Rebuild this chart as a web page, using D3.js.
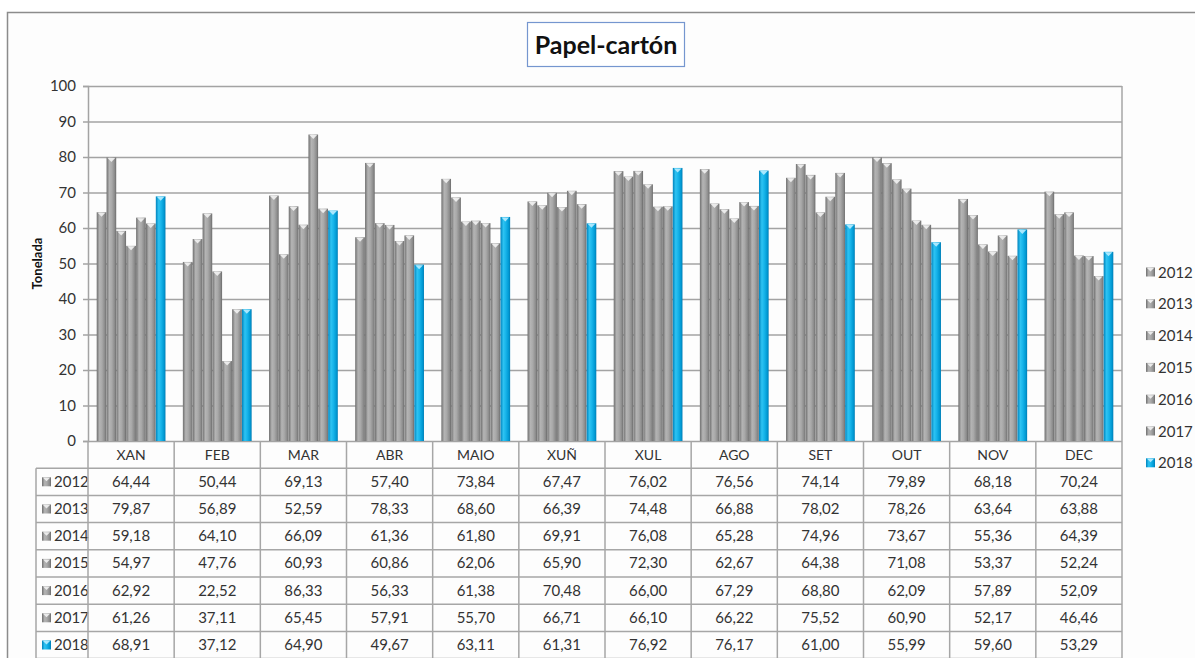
<!DOCTYPE html>
<html><head><meta charset="utf-8">
<script src="https://cdn.jsdelivr.net/npm/d3@7"></script>
<style>
html,body{margin:0;padding:0;background:#fff;}
text{font-family:Lato,"Open Sans",sans-serif;}
</style></head>
<body><svg id="c" width="1195" height="658"></svg>
<script>
const months = ["XAN","FEB","MAR","ABR","MAIO","XUÑ","XUL","AGO","SET","OUT","NOV","DEC"];
const years = ["2012","2013","2014","2015","2016","2017","2018"];
const v2012 = [64.44,50.44,69.13,57.40,73.84,67.47,76.02,76.56,74.14,79.89,68.18,70.24];
const v2013 = [79.87,56.89,52.59,78.33,68.60,66.39,74.48,66.88,78.02,78.26,63.64,63.88];
const v2014 = [59.18,64.10,66.09,61.36,61.80,69.91,76.08,65.28,74.96,73.67,55.36,64.39];
const v2015 = [54.97,47.76,60.93,60.86,62.06,65.90,72.30,62.67,64.38,71.08,53.37,52.24];
const v2016 = [62.92,22.52,86.33,56.33,61.38,70.48,66.00,67.29,68.80,62.09,57.89,52.09];
const v2017 = [61.26,37.11,65.45,57.91,55.70,66.71,66.10,66.22,75.52,60.90,52.17,46.46];
const v2018 = [68.91,37.12,64.90,49.67,63.11,61.31,76.92,76.17,61.00,55.99,59.60,53.29];
const yTicks = [0,10,20,30,40,50,60,70,80,90,100];
const title = "Papel-cartón";
const yLabel = "Tonelada";

(function(){
const series = [v2012,v2013,v2014,v2015,v2016,v2017,v2018];
const data = years.map((yr,i)=>({year:yr, values:series[i]}));

const svg = d3.select("#c");
const W = 1195, H = 658;
const pL = 88, pR = 1122, pT = 86, pB = 441;

svg.append("rect").attr("x",0).attr("y",0).attr("width",W).attr("height",H).attr("fill","#fff");
svg.append("rect").attr("x",7.5).attr("y",12.5).attr("width",1200).attr("height",700)
  .attr("fill","#fdfdfd").attr("stroke","#8c8c8c").attr("stroke-width",1.5);

const defs = svg.append("defs");
function grad(id, stops){
  const g = defs.append("linearGradient").attr("id",id).attr("x1","0%").attr("x2","100%").attr("y1","0%").attr("y2","0%");
  stops.forEach(s=>g.append("stop").attr("offset",s[0]).attr("stop-color",s[1]));
}
grad("gGray",[["0%","#6f6f6f"],["30%","#b4b4b4"],["55%","#a9a9a9"],["85%","#8a8a8a"],["100%","#6a6a6a"]]);
grad("gBlue",[["0%","#0083bd"],["30%","#2ec3f2"],["55%","#17b4ea"],["85%","#0098d2"],["100%","#007cb4"]]);
const fillFor = yr => yr==="2018" ? "url(#gBlue)" : "url(#gGray)";
const capFor = yr => yr==="2018" ? "#b8ecff" : "#f2f2f2";

const tg = svg.append("g");
tg.append("rect").attr("x",527.5).attr("y",22.5).attr("width",157).attr("height",44)
  .attr("fill","#fff").attr("stroke","#7596cf").attr("stroke-width",1.2);
tg.append("text").attr("x",606).attr("y",54).attr("text-anchor","middle")
  .attr("font-size",25).attr("font-weight","bold").attr("fill","#111").text(title);

const y = d3.scaleLinear().domain([0,100]).range([pB,pT]);
const x0 = d3.scaleBand().domain(months).range([pL,pR]).paddingInner(0).paddingOuter(0);
const x1 = d3.scaleBand().domain(years).range([8.5, x0.bandwidth()-8.5]).padding(0.02);

svg.append("g").attr("transform",`translate(${pL},0)`)
  .call(d3.axisLeft(y).tickValues(yTicks).tickSize(-(pR-pL)).tickFormat(""))
  .call(g=>g.select(".domain").remove())
  .call(g=>g.selectAll("line").attr("stroke","#a3a3a3").attr("stroke-width",1.5));

svg.append("g").attr("transform",`translate(${pL},0)`)
  .call(d3.axisLeft(y).tickValues(yTicks).tickSize(5).tickPadding(7))
  .call(g=>g.select(".domain").attr("stroke","#a3a3a3").attr("stroke-width",1.5))
  .call(g=>g.selectAll("line").attr("stroke","#a3a3a3").attr("stroke-width",1.5))
  .call(g=>g.selectAll("text").attr("font-size",15).attr("fill","#333").attr("font-family","Lato,'Open Sans',sans-serif"));

svg.append("text").attr("transform",`translate(42,${(pT+pB)/2}) rotate(-90)`)
  .attr("text-anchor","middle").attr("font-size",13).attr("font-weight","bold").attr("fill","#111").text(yLabel);

const groups = svg.append("g").selectAll("g").data(months).join("g")
  .attr("transform",m=>`translate(${x0(m)},0)`);
groups.each(function(m,mi){
  const g = d3.select(this);
  data.forEach(d=>{
    const val = d.values[mi];
    const bx = x1(d.year), bw = x1.bandwidth(), by = y(val);
    g.append("rect").attr("x",bx).attr("y",by).attr("width",bw).attr("height",pB-by)
      .attr("fill",fillFor(d.year));
    g.append("path").attr("d",`M${bx+1},${by+0.5}L${bx+bw-1},${by+0.5}L${bx+bw/2},${by+4.5}Z`)
      .attr("fill",capFor(d.year)).attr("opacity",0.9);
  });
});

const rowH = 27.2;
const tableLeft = 36;
const lineC = "#a6a6a6";
const tbl = svg.append("g");
months.forEach(m=>{
  tbl.append("text").attr("x",x0(m)+x0.bandwidth()/2).attr("y",pB+rowH/2+5)
    .attr("text-anchor","middle").attr("font-size",14).attr("fill","#333").text(m);
});
data.forEach((d,i)=>{
  const ry = pB + rowH*(i+1);
  tbl.append("rect").attr("x",42).attr("y",ry+rowH/2-4.5).attr("width",9).attr("height",9).attr("fill",fillFor(d.year));
  tbl.append("path").attr("d",`M43,${ry+rowH/2-4}L50,${ry+rowH/2-4}L46.5,${ry+rowH/2-0.5}Z`).attr("fill",capFor(d.year)).attr("opacity",0.9);
  tbl.append("text").attr("x",54).attr("y",ry+rowH/2+5).attr("font-size",15).attr("fill","#333").text(d.year);
  months.forEach((m,mi)=>{
    tbl.append("text").attr("x",x0(m)+x0.bandwidth()/2).attr("y",ry+rowH/2+5)
      .attr("text-anchor","middle").attr("font-size",15).attr("fill","#333")
      .text(d3.format(".2f")(d.values[mi]).replace(".",","));
  });
});
const tBottom = pB + rowH*8;
for(let i=1;i<=8;i++){
  const ly = pB + rowH*i;
  tbl.append("line").attr("x1",tableLeft).attr("x2",pR).attr("y1",ly).attr("y2",ly).attr("stroke",lineC).attr("stroke-width",1.5);
}
tbl.append("line").attr("x1",tableLeft).attr("x2",tableLeft).attr("y1",pB+rowH).attr("y2",tBottom).attr("stroke",lineC).attr("stroke-width",1.5);
months.forEach(m=>{
  tbl.append("line").attr("x1",x0(m)).attr("x2",x0(m)).attr("y1",pB).attr("y2",tBottom).attr("stroke",lineC).attr("stroke-width",1.5);
});
tbl.append("line").attr("x1",pR).attr("x2",pR).attr("y1",pT).attr("y2",tBottom).attr("stroke",lineC).attr("stroke-width",1.5);

const lg = svg.append("g");
data.forEach((d,i)=>{
  const ly = 272 + i*31.8;
  lg.append("rect").attr("x",1146).attr("y",ly-4.5).attr("width",9).attr("height",9).attr("fill",fillFor(d.year));
  lg.append("path").attr("d",`M1147,${ly-4}L1154,${ly-4}L1150.5,${ly-0.5}Z`).attr("fill",capFor(d.year)).attr("opacity",0.9);
  lg.append("text").attr("x",1158).attr("y",ly+5.5).attr("font-size",15).attr("fill","#333").text(d.year);
});
})();
</script></body></html>
